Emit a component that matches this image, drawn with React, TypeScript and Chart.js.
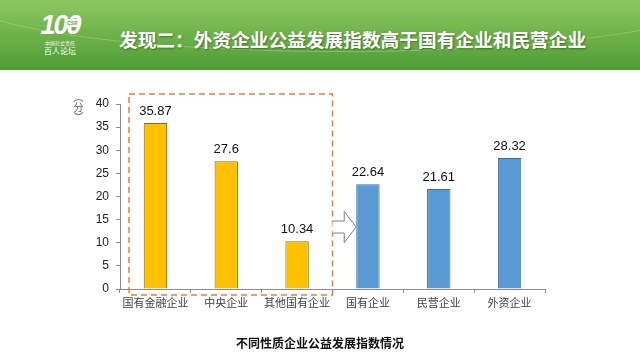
import React, { useEffect, useRef } from "react";
import { Chart, registerables } from "chart.js";

Chart.register(...registerables);

const categories = ["国有金融企业", "中央企业", "其他国有企业", "国有企业", "民营企业", "外资企业"];
const values = [35.87, 27.6, 10.34, 22.64, 21.61, 28.32];
const valueLabels = ["35.87", "27.6", "10.34", "22.64", "21.61", "28.32"];
const barColors = ["#FFC000", "#FFC000", "#FFC000", "#5B9BD5", "#5B9BD5", "#5B9BD5"];
const barBorders = ["#8C6A00", "#8C6A00", "#8C6A00", "#3A6E9E", "#3A6E9E", "#3A6E9E"];
const yMin = 0;
const yMax = 40;
const yStep = 5;
const groupedCount = 3; // first three bars are inside the dashed box
const arrowLevel = 13.4; // value level at which the arrow sits

const title = "发现二：外资企业公益发展指数高于国有企业和民营企业";
const caption = "不同性质企业公益发展指数情况";
const unitLabel = "（分）";

const FONT = '"Liberation Sans", "Noto Sans CJK SC", sans-serif';
const CJK = '"Noto Sans CJK SC", sans-serif';

const overlayPlugin = {
  id: "overlay",
  afterDatasetsDraw(chart: any) {
    const ctx = chart.ctx;
    const meta = chart.getDatasetMeta(0);
    const x = chart.scales.x;
    const y = chart.scales.y;
    const area = chart.chartArea;

    // value labels
    ctx.save();
    ctx.fillStyle = "#111";
    ctx.font = `13px ${FONT}`;
    ctx.textAlign = "center";
    ctx.textBaseline = "bottom";
    meta.data.forEach((bar: any, i: number) => {
      ctx.fillText(valueLabels[i], bar.x, bar.y - 5);
    });
    ctx.restore();

    // dashed box around first group
    const boxRight = (x.getPixelForValue(groupedCount - 1) + x.getPixelForValue(groupedCount)) / 2;
    const boxLeft = area.left + 9;
    const boxTop = y.getPixelForValue(yMax) - 10;
    const boxBottom = area.bottom + 6;
    ctx.save();
    ctx.strokeStyle = "#ED7D31";
    ctx.lineWidth = 1.5;
    ctx.setLineDash([6, 4]);
    ctx.strokeRect(boxLeft, boxTop, boxRight - boxLeft, boxBottom - boxTop);
    ctx.restore();

    // hollow arrow
    const target: any = meta.data[groupedCount];
    const tipX = target.x - target.width / 2;
    const baseX = boxRight;
    const midY = y.getPixelForValue(arrowLevel);
    const headLen = 12;
    const shaftH = 6;
    const headH = 15.5;
    ctx.save();
    ctx.beginPath();
    ctx.moveTo(baseX, midY - shaftH);
    ctx.lineTo(tipX - headLen, midY - shaftH);
    ctx.lineTo(tipX - headLen, midY - headH);
    ctx.lineTo(tipX, midY);
    ctx.lineTo(tipX - headLen, midY + headH);
    ctx.lineTo(tipX - headLen, midY + shaftH);
    ctx.lineTo(baseX, midY + shaftH);
    ctx.fillStyle = "#ffffff";
    ctx.fill();
    ctx.strokeStyle = "#7F7F7F";
    ctx.lineWidth = 1;
    ctx.stroke();
    ctx.restore();
  },
};

export default function App() {
  const ref = useRef<HTMLCanvasElement | null>(null);

  useEffect(() => {
    if (!ref.current) return;
    const chart = new Chart(ref.current, {
      type: "bar",
      data: {
        labels: categories,
        datasets: [
          {
            data: values,
            backgroundColor: barColors,
            borderColor: barBorders,
            borderWidth: 1,
            barPercentage: 0.33,
            categoryPercentage: 1,
          },
        ],
      },
      options: {
        animation: false,
        responsive: false,
        events: [],
        layout: { padding: { left: 80, right: 95, top: 104, bottom: 51 } },
        plugins: { legend: { display: false }, tooltip: { enabled: false } },
        scales: {
          x: {
            afterFit(scale: any) {
              scale.height = 20;
            },
            border: { display: true, color: "#8C8C8C", width: 1 },
            grid: { display: true, drawOnChartArea: false, drawTicks: true, tickLength: 4, color: "#8C8C8C", offset: true },
            ticks: { color: "#404040", font: { size: 11, family: CJK }, padding: 3, maxRotation: 0, autoSkip: false },
          },
          y: {
            min: yMin,
            max: yMax,
            afterFit(scale: any) {
              scale.width = 40;
            },
            border: { display: true, color: "#8C8C8C", width: 1 },
            grid: { display: true, drawOnChartArea: false, drawTicks: true, tickLength: 4, color: "#8C8C8C" },
            ticks: { stepSize: yStep, color: "#222", font: { size: 12, family: FONT }, padding: 7 },
          },
        },
      },
      plugins: [overlayPlugin],
    });
    return () => chart.destroy();
  }, []);

  return (
    <div style={{ position: "absolute", left: 0, top: 0, width: 640, height: 360, overflow: "hidden", background: "#fff" }}>
      <canvas ref={ref} width={640} height={360} style={{ position: "absolute", left: 0, top: 0 }} />
      <div
        style={{
          position: "absolute",
          left: 0,
          top: 0,
          width: 640,
          height: 70,
          background: "linear-gradient(180deg, #8CC862 0%, #72B44C 45%, #4E9C34 100%)",
        }}
      >
        <div
          style={{
            position: "absolute",
            left: -40,
            top: -60,
            width: 760,
            height: 110,
            borderRadius: "50%",
            border: "1px solid rgba(255,255,255,0.25)",
          }}
        />
        {/* logo */}
        <div style={{ position: "absolute", left: 38, top: 11, width: 44, color: "#fff", fontFamily: FONT, textAlign: "center" }}>
          <div style={{ fontSize: 27, fontWeight: 700, lineHeight: "28px", letterSpacing: -2, fontStyle: "italic" }}>
            100
          </div>
          <div style={{ position: "absolute", left: 27, top: 8, fontSize: 5, fontWeight: 700, color: "#5AA83A", background: "#fff", borderRadius: 6, padding: "1px 2px" }}>
            CSR
          </div>
          <div style={{ fontSize: 5, lineHeight: "7px", fontFamily: CJK, whiteSpace: "nowrap" }}>中国社会责任</div>
          <div style={{ fontSize: 8, lineHeight: "10px", fontFamily: CJK, whiteSpace: "nowrap" }}>百人论坛</div>
        </div>
        <div
          style={{
            position: "absolute",
            left: 119,
            top: 26,
            color: "#fff",
            fontFamily: CJK,
            fontWeight: 700,
            fontSize: 18.7,
            lineHeight: "26px",
            whiteSpace: "nowrap",
            textShadow: "1px 1px 2px rgba(0,0,0,0.35)",
          }}
        >
          {title}
        </div>
      </div>
      <div
        style={{
          position: "absolute",
          left: 72,
          top: 92,
          writingMode: "vertical-rl",
          fontFamily: CJK,
          fontSize: 10,
          color: "#595959",
          lineHeight: "12px",
        }}
      >
        {unitLabel}
      </div>
      <div
        style={{
          position: "absolute",
          left: 0,
          width: 640,
          top: 335,
          textAlign: "center",
          fontFamily: CJK,
          fontWeight: 700,
          fontSize: 12,
          color: "#111",
          lineHeight: "16px",
        }}
      >
        {caption}
      </div>
    </div>
  );
}
